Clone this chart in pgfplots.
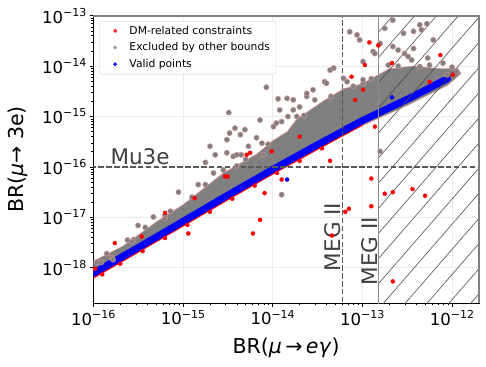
\documentclass[border=0pt]{standalone}
\usepackage{fontspec}
\setmainfont{DejaVu Sans}
\usepackage{pgfplots}
\pgfplotsset{compat=1.18}
\usetikzlibrary{patterns.meta}

\definecolor{mplgray}{HTML}{808080}
\definecolor{pinkedge}{RGB}{225,150,150}
\definecolor{anno}{HTML}{404040}

\newcommand{\tl}[1]{10\raisebox{0.42em}{\fontsize{11}{11}\selectfont −#1}}

\begin{document}
\begin{tikzpicture}
\begin{axis}[
  scale only axis, width=385.7pt, height=287.3pt,
  xmode=log, ymode=log,
  xmin=1e-16, xmax=2e-12, ymin=2e-19, ymax=1e-13,
  xtick={1e-16,1e-15,1e-14,1e-13,1e-12},
  xticklabels={\tl{16},\tl{15},\tl{14},\tl{13},\tl{12}},
  ytick={1e-18,1e-17,1e-16,1e-15,1e-14,1e-13},
  yticklabels={\tl{18},\tl{17},\tl{16},\tl{15},\tl{14},\tl{13}},
  tick align=outside, tick pos=left,
  major tick length=3.5pt, minor tick length=2pt,
  tick style={black, line width=0.6pt},
  grid=major, major grid style={black!8, line width=0.6pt},
  axis line style={black, line width=0.8pt},
  tick label style={font=\fontsize{16.5}{18}\selectfont},
  xlabel={BR(\textit{μ}\,→\,\textit{eγ})},
  ylabel={BR(\textit{μ}→ 3e)},
  every axis x label/.style={at={(rel axis cs:0.5,0)}, yshift=-50pt, anchor=base, font=\fontsize{20.5}{22}\selectfont},
  every axis y label/.style={at={(rel axis cs:0,0.5)}, xshift=-75.3pt, rotate=90, anchor=center, font=\fontsize{20.5}{22}\selectfont},
  legend style={at={(rel axis cs:0.0156,0.982)}, anchor=north west, draw=black!20, rounded corners=2.5pt,
    fill=white, fill opacity=0.8, text opacity=1, font=\fontsize{10.75}{12}\selectfont,
    inner xsep=4pt, inner ysep=3pt, row sep=3pt},
  legend cell align=left,
  legend image code/.code={\path[draw=none,fill=none] (0pt,0pt) -- (24pt,0pt); \draw[#1,mark repeat=1] plot coordinates {(11.7pt,0pt)};},
]
% legend entries
\addlegendimage{only marks, mark=*, red, mark size=1.7pt}
\addlegendentry{DM-related constraints}
\addlegendimage{only marks, mark=*, mplgray, mark size=1.5pt}
\addlegendentry{Excluded by other bounds}
\addlegendimage{only marks, mark=*, blue, mark size=1.7pt}
\addlegendentry{Valid points}

% dense grey core
\addplot[forget plot, fill=mplgray, draw=pinkedge, line width=0.6pt] coordinates {
(8.9e-17,1.12e-18) (1e-16,1.35e-18) (2.14e-16,2.69e-18) (5.13e-16,8.3e-18) (1e-15,1.78e-17)
(2.82e-15,7.6e-17) (6.6e-15,1.78e-16) (1e-14,3.3e-16) (1.45e-14,5.0e-16) (1.86e-14,8.9e-16)
(3.63e-14,2.0e-15) (6.17e-14,3.55e-15) (1e-13,4.47e-15) (1.41e-13,6.3e-15) (2.0e-13,8.9e-15)
(3.7e-13,1.0e-14) (7.4e-13,8.9e-15) (1.17e-12,8.9e-15) (1.26e-12,7.1e-15) (8.9e-13,4.17e-15)
(3.16e-13,1.66e-15) (1e-13,6.6e-16) (3.16e-14,2.63e-16) (1e-14,8.9e-17) (1e-15,8.3e-18)
(8.9e-17,6.9e-19)} -- cycle;

% grey scattered points
\addplot[forget plot, only marks, mark=*, mark size=2.7pt, mark options={fill=mplgray, draw=pinkedge, line width=0.4pt}] coordinates {
(8.51e-15,3.80e-15) (3.24e-15,1.20e-15) (2.00e-15,2.57e-16) (1.78e-15,1.23e-16) (3.80e-15,5.89e-16)
(4.37e-15,4.37e-16) (6.61e-15,3.80e-16) (1.15e-14,2.24e-15) (1.45e-14,2.29e-15) (2.40e-14,2.51e-15)
(3.80e-14,4.90e-15) (4.79e-14,9.12e-15) (7.24e-14,4.79e-14) (8.71e-14,4.17e-14) (1.02e-13,1.23e-14)
(1.32e-13,1.95e-14) (1.78e-13,5.62e-14) (2.19e-13,8.13e-14) (2.88e-13,4.47e-14) (3.72e-13,4.90e-14)
(4.57e-13,5.25e-14) (5.25e-13,6.92e-14) (6.17e-13,3.31e-14) (3.72e-13,2.24e-14) (2.19e-13,2.45e-14)
(1.58e-13,2.82e-14) (1.02e-13,4.57e-15) (6.17e-14,5.75e-15) (3.98e-14,4.57e-15) (2.82e-14,3.39e-15)
(1.70e-14,2.14e-15) (1.20e-14,1.35e-15) (7.24e-15,8.51e-16) (4.90e-15,5.50e-16) (3.09e-15,3.47e-16)
(2.29e-15,1.74e-16) (3.63e-15,1.62e-16) (5.37e-15,2.57e-16) (1.02e-14,6.31e-16) (1.12e-12,7.76e-15)
(8.71e-13,6.76e-15) (4.37e-13,9.77e-15) (1.58e-13,2.04e-16) (3.09e-15,1.91e-16) (8.91e-16,3.16e-17)
(7.24e-16,1.32e-17) (6.31e-16,9.77e-18) (4.68e-16,1.02e-17) (3.16e-16,6.92e-18) (2.82e-16,3.63e-18)
(1.62e-16,1.58e-18) (1.10e-16,1.29e-18) (1.23e-16,1.29e-18) (2.19e-15,7.59e-17) (2.82e-15,8.71e-17)
(1.48e-15,4.47e-17) (1.26e-14,2.82e-17) (1.10e-14,7.41e-16) (1.26e-14,7.94e-16) (7.59e-15,2.95e-16)
(7.94e-15,1.74e-16) (2.69e-16,3.31e-18) (1.66e-16,1.45e-18) (4.37e-13,6.61e-14) (2.95e-13,1.78e-14)
(3.55e-13,1.32e-14) (2.51e-13,2.09e-14) (1.38e-13,1.78e-14) (9.33e-14,3.31e-14) (1.02e-13,5.37e-15)
(1.95e-13,1.05e-14) (3.24e-13,1.55e-14) (5.37e-13,1.45e-14) (7.94e-13,1.15e-14) (6.76e-14,4.90e-15)
(4.37e-14,8.32e-15) (2.40e-14,2.88e-15) (2.95e-14,2.14e-15) (1.70e-14,1.35e-15) (2.00e-14,1.55e-15)
(1.48e-14,1.00e-15) (1.86e-14,1.00e-15) (3.98e-15,1.74e-16) (4.47e-15,1.74e-16) (3.31e-15,4.68e-16)
(1.41e-16,1.91e-18) (2.40e-16,3.55e-18) (3.80e-16,6.31e-18) (6.31e-16,1.12e-17) (1.26e-15,2.51e-17)
(1.78e-15,4.47e-17) (3.98e-15,1.05e-16) (5.01e-15,1.41e-16) (8.91e-15,2.82e-16) (2.24e-14,1.05e-15)
(4.47e-14,2.51e-15) (7.94e-14,3.98e-15) (1.26e-13,5.62e-15) (2.51e-13,1.00e-14) (5.62e-13,1.05e-14)
(1.00e-12,9.55e-15)};

% red fringe below the valid band
\addplot[forget plot, red, line width=1.5pt] coordinates {
(8.9e-17,5.6e-19) (3.16e-16,2.05e-18) (1e-15,6.8e-18) (3.16e-15,2.25e-17) (1e-14,7.3e-17) (3.16e-14,2.25e-16) (1e-13,6.8e-16)};

% red points
\addplot[forget plot, only marks, mark=*, mark size=2pt, red] coordinates {
(1.20e-13,2.95e-14) (1.51e-13,2.57e-14) (1.07e-13,1.05e-14) (2.14e-13,1.15e-14) (7.41e-13,1.66e-14)
(7.59e-14,6.17e-15) (8.32e-14,2.14e-15) (2.00e-14,3.98e-16) (4.37e-14,1.32e-16) (5.62e-15,1.91e-16)
(1.02e-12,6.76e-15) (1.26e-13,5.89e-17) (1.02e-13,3.39e-15) (1.38e-13,6.31e-16) (5.62e-13,4.90e-15)
(1.78e-13,2.95e-17) (2.19e-13,3.16e-17) (3.63e-13,3.63e-17) (5.01e-13,2.69e-17) (1.26e-13,1.66e-17)
(7.08e-14,1.48e-17) (6.46e-14,1.29e-17) (4.57e-14,4.37e-18) (2.19e-13,5.37e-19) (7.24e-15,8.91e-18)
(6.03e-15,4.79e-18) (8.13e-15,3.02e-17) (1.26e-14,5.62e-17) (1.35e-15,2.40e-17) (6.31e-16,1.23e-17)
(1.15e-15,4.79e-18) (3.47e-16,4.17e-18) (1.74e-16,3.09e-18) (1.05e-16,9.55e-19) (2.95e-15,6.46e-17)
(3.16e-15,6.46e-17) (9.77e-15,2.04e-16) (5.13e-15,1.74e-16)
(1.26e-16,7.41e-19) (2.00e-16,1.20e-18) (3.55e-16,2.14e-18) (6.31e-16,3.89e-18) (1.12e-15,7.08e-18)
(2.00e-15,1.29e-17) (3.55e-15,2.34e-17) (6.31e-15,4.27e-17) (1.12e-14,7.59e-17) (2.00e-14,1.32e-16)
(3.55e-14,2.34e-16)};

% valid band
\addplot[forget plot, blue, line width=7pt, line cap=round, line join=round] coordinates {
(8.9e-17,6.9e-19) (3.16e-16,2.5e-18) (1e-15,8.3e-18) (3.16e-15,2.75e-17) (1e-14,8.9e-17)
(3.16e-14,2.75e-16) (1e-13,8.3e-16) (3.16e-13,2.19e-15) (8.9e-13,5.6e-15)};
\addplot[forget plot, only marks, mark=*, mark size=2pt, blue] coordinates {
(2.14e-13,2.40e-15) (1.45e-14,5.62e-17)};

% excluded region (hatched)
\addplot[forget plot, draw=none, pattern={Lines[angle=49, distance=16.5pt, line width=0.6pt]}, pattern color=black!70] coordinates {
(1.5e-13,1e-19) (3e-12,1e-19) (3e-12,1e-12) (1.5e-13,1e-12)} -- cycle;

% experimental limits
\addplot[forget plot, black!65, line width=1.3pt, dash pattern=on 5.5pt off 2.4pt] coordinates {(6e-14,1e-19) (6e-14,1e-12)};
\addplot[forget plot, black!45, line width=1.2pt] coordinates {(1.5e-13,1e-19) (1.5e-13,1e-12)};
\addplot[forget plot, black!65, line width=1.3pt, dash pattern=on 5.5pt off 2.4pt] coordinates {(1e-17,1e-16) (1e-11,1e-16)};

\node[anno, font=\fontsize{21.5}{24}\selectfont, anchor=base west, inner sep=0pt] at (axis cs:1.55e-16,1.13e-16) {Mu3e};
\node[anno, font=\fontsize{21.5}{24}\selectfont, rotate=90, anchor=base west, inner sep=0pt] at (axis cs:5.74e-14,8.5e-19) {MEG II};
\node[anno, font=\fontsize{21.5}{24}\selectfont, rotate=90, anchor=base west, inner sep=0pt] at (axis cs:1.48e-13,4.47e-19) {MEG II};
\end{axis}
\draw[black!50, line width=2pt] (current axis.north west) -- (current axis.north east) -- (current axis.south east);
\pgfresetboundingbox
\path ([shift={(-93.3pt,-64pt)}]current axis.south west) rectangle ([shift={(7pt,15.7pt)}]current axis.north east);
\end{tikzpicture}
\end{document}
